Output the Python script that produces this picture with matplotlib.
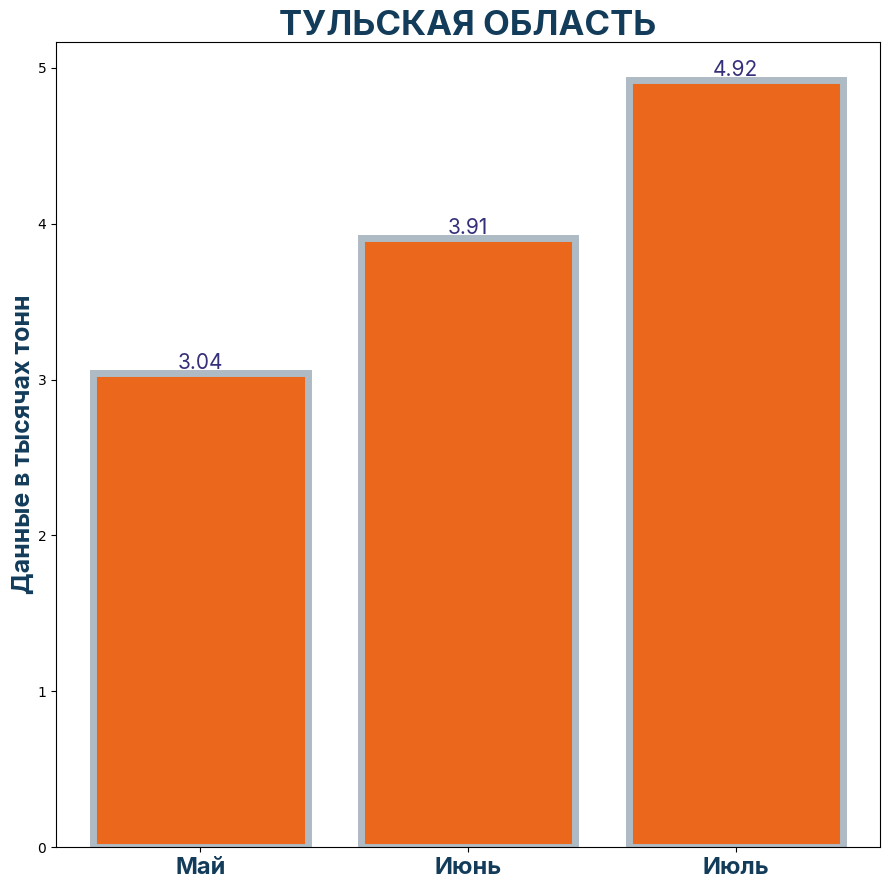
import matplotlib.pyplot as plt

# Colors
title_color = '#123C5A'
bar_color = '#EB671B'
edge_color = '#AEBAC4'
label_color = '#35307A'

months = ['Май', 'Июнь', 'Июль']
values = [3.04, 3.91, 4.92]

plt.rcParams['font.family'] = ['Inter', 'DejaVu Sans']

fig, ax = plt.subplots(figsize=(8.89, 8.90), dpi=100)
fig.subplots_adjust(left=0.063, right=0.99, top=0.953, bottom=0.048)

bars = ax.bar(months, values, width=0.8, color=bar_color,
              edgecolor=edge_color, linewidth=5)

for i, v in enumerate(values):
    ax.text(i, v, f'{v:.2f}', ha='center', va='bottom',
            fontsize=15, fontweight='normal', color=label_color)

ax.set_title('ТУЛЬСКАЯ ОБЛАСТЬ', fontsize=25, fontweight='bold',
             color=title_color, pad=4)
ax.set_ylabel('Данные в тысячах тонн', fontsize=18, fontweight='bold',
              color=title_color, labelpad=2)

for lbl in ax.get_xticklabels():
    lbl.set_fontsize(17)
    lbl.set_fontweight('bold')
    lbl.set_color(title_color)

for lbl in ax.get_yticklabels():
    lbl.set_fontfamily('DejaVu Sans')

plt.savefig('out.png', dpi=100)
